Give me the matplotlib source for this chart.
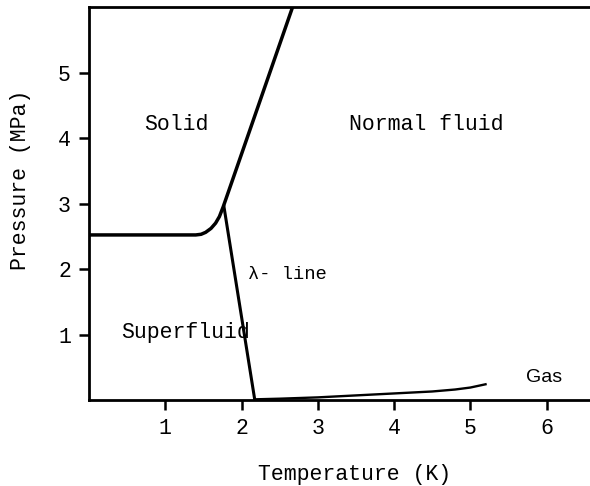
import numpy as np
import matplotlib
matplotlib.use("Agg")
import matplotlib.pyplot as plt

# Melting curve (solid / liquid boundary)
melt_T = [0.0, 1.0, 1.4, 1.47, 1.53, 1.6, 1.66, 1.71, 1.76, 2.67]
melt_P = [2.52, 2.52, 2.52, 2.53, 2.56, 2.62, 2.70, 2.80, 2.95, 6.0]

# Lambda line
lam_T = [1.77, 2.17]
lam_P = [2.95, 0.03]

# Vapour pressure curve
vap_T = [2.17, 2.5, 3.0, 3.5, 4.0, 4.5, 4.8, 5.0, 5.2]
vap_P = [0.01, 0.02, 0.04, 0.07, 0.10, 0.13, 0.16, 0.19, 0.24]

x_ticks = [1, 2, 3, 4, 5, 6]
y_ticks = [1, 2, 3, 4, 5]

font = "Liberation Mono"
fs = 15.5

fig = plt.figure(figsize=(5.9, 4.86), dpi=100)
W, H = 590, 486
AXW = 7 * 76.4 - 1
ax = fig.add_axes([89 / W, (H - 400) / H, AXW / W, 393 / H])
ax.set_xlim(0, 7)
ax.set_ylim(0, 6)

ax.plot(melt_T, melt_P, color="black", lw=2.5, solid_capstyle="round",
        solid_joinstyle="round")
ax.plot(lam_T, lam_P, color="black", lw=2.2)
ax.plot(vap_T, vap_P, color="black", lw=1.7, solid_joinstyle="round")

ax.set_xticks(x_ticks)
ax.set_yticks(y_ticks)
ax.set_xticklabels([str(v) for v in x_ticks], fontfamily=font, fontsize=fs)
ax.set_yticklabels([str(v) for v in y_ticks], fontfamily=font, fontsize=fs)
ax.tick_params(direction="out", length=7, width=1.8, pad=6)

for s in ["left", "bottom", "top"]:
    ax.spines[s].set_linewidth(2.0)
ax.spines["right"].set_visible(False)

ax.set_xlabel("Temperature (K)", fontfamily=font, fontsize=fs)
ax.set_ylabel("Pressure (MPa)", fontfamily=font, fontsize=fs)
ax.xaxis.set_label_coords((355 - 89) / AXW, -(464 - 400) / 393)
ax.yaxis.set_label_coords(-(89 - 31) / AXW, (400 - 180) / 393)

ax.text(1.14, 4.2, "Solid", fontfamily=font, fontsize=fs, ha="center", va="center")
ax.text(4.42, 4.2, "Normal fluid", fontfamily=font, fontsize=fs, ha="center", va="center")
ax.text(2.09, 1.91, "λ- line", fontfamily=[font, "DejaVu Sans"], fontsize=13.5, ha="left", va="center")
ax.text(1.27, 1.03, "Superfluid", fontfamily=font, fontsize=fs, ha="center", va="center")
ax.text(5.97, 0.35, "Gas", fontfamily="Liberation Sans", fontsize=14, ha="center", va="center")

fig.savefig("out.png", dpi=100)
